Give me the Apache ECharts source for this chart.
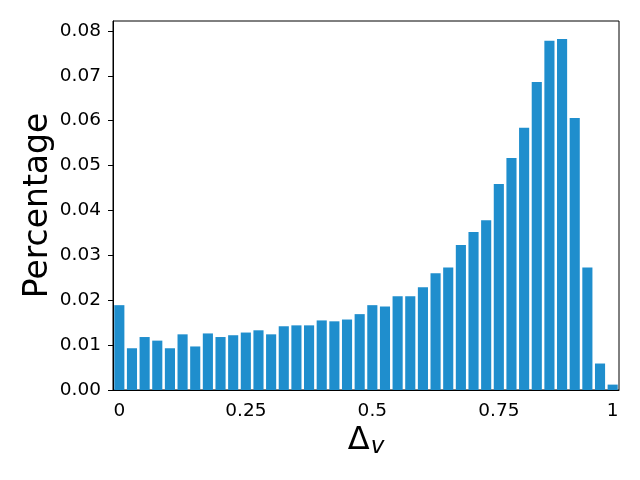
<!DOCTYPE html>
<html>
<head>
<meta charset="utf-8">
<script src="https://cdn.jsdelivr.net/npm/echarts@6/dist/echarts.min.js"></script>
<style>
  html, body { margin: 0; padding: 0; background: #fff; }
  #chart { width: 640px; height: 480px; }
</style>
</head>
<body>
<div id="chart"></div>
<script>
// 40 bins of Δv
const percentage = [
  0.0189, 0.0093, 0.0118, 0.0110, 0.0093, 0.0124, 0.0097, 0.0126, 0.0118, 0.0122,
  0.0128, 0.0133, 0.0124, 0.0142, 0.0144, 0.0144, 0.0155, 0.0153, 0.0157, 0.0169,
  0.0189, 0.0186, 0.0209, 0.0209, 0.0229, 0.0260, 0.0273, 0.0323, 0.0352, 0.0378,
  0.0459, 0.0517, 0.0584, 0.0686, 0.0778, 0.0782, 0.0606, 0.0273, 0.0059, 0.0012
];
const bins = percentage.map((_, i) => String(i));
// bin index -> tick label on x
const xTickIdx = [0, 10, 20, 30, 39];
const xTickLabels = ['0', '0.25', '0.5', '0.75', '1'];
const yTicks = [0, 0.01, 0.02, 0.03, 0.04, 0.05, 0.06, 0.07, 0.08];
const yMax = 0.0822;

const font = 'DejaVu Sans';
const chart = echarts.init(document.getElementById('chart'));

chart.setOption({
  animation: false,
  grid: {
    left: 113, right: 21, top: 21, bottom: 90,
    show: true, borderColor: '#000', borderWidth: 1,
  },
  xAxis: {
    type: 'category',
    data: bins,
    boundaryGap: true,
    axisLine: { lineStyle: { color: '#000', width: 1 } },
    axisTick: {
      alignWithLabel: true,
      length: 5,
      interval: (idx) => xTickIdx.includes(idx),
      lineStyle: { color: '#000' },
    },
    axisLabel: {
      interval: (idx) => xTickIdx.includes(idx),
      formatter: (v, idx) => xTickLabels[xTickIdx.indexOf(idx)],
      fontFamily: font, fontSize: 18.5, color: '#000', margin: 12,
    },
    name: '{a|Δ}{b|v}',
    nameLocation: 'middle',
    nameGap: 32,
    nameMoveOverlap: false,
    nameTextStyle: {
      rich: {
        a: { fontFamily: font, fontSize: 32, color: '#000' },
        b: { fontFamily: font, fontSize: 23, fontStyle: 'italic', color: '#000', padding: [14, 0, 0, 1] },
      },
    },
  },
  yAxis: {
    type: 'value',
    min: 0,
    max: yMax,
    splitLine: { show: false },
    axisLine: { show: true, lineStyle: { color: '#000', width: 1 } },
    axisTick: { show: true, length: 5, customValues: yTicks, lineStyle: { color: '#000' } },
    axisLabel: {
      customValues: yTicks,
      formatter: (v) => v.toFixed(2),
      fontFamily: font, fontSize: 18.5, color: '#000', margin: 12,
    },
    name: 'Percentage',
    nameLocation: 'middle',
    nameGap: 58,
    nameMoveOverlap: false,
    nameTextStyle: { fontFamily: font, fontSize: 33, color: '#000' },
  },
  series: [{
    type: 'bar',
    data: percentage,
    barCategoryGap: '20%',
    itemStyle: { color: '#1f8ecd' },
  }],
});
</script>
</body>
</html>
